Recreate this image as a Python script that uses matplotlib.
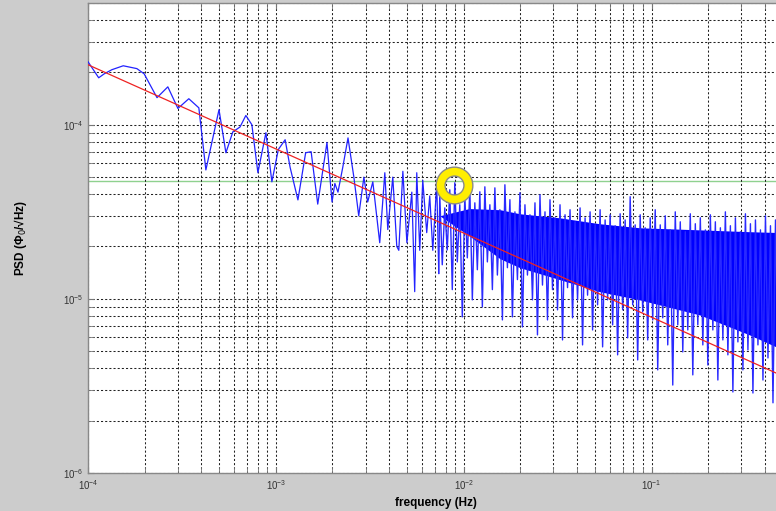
#!/usr/bin/env python

# Noise PSD with 1/f fit, MATLAB-style log-log figure

import numpy as np
import matplotlib

matplotlib.use("Agg")
import matplotlib.pyplot as plt

plt.rcParams["font.family"] = ["Liberation Sans", "DejaVu Sans"]

# Low frequency part of the spectrum (read point by point)
low_f = [
    1.00e-4, 1.14e-4, 1.22e-4, 1.34e-4, 1.54e-4, 1.82e-4, 1.99e-4, 2.33e-4,
    2.66e-4, 3.01e-4, 3.44e-4, 3.89e-4, 4.24e-4, 4.98e-4, 5.42e-4, 5.90e-4,
    6.44e-4, 6.92e-4, 7.45e-4, 8.02e-4, 8.85e-4, 9.52e-4, 1.03e-3, 1.12e-3,
    1.19e-3, 1.31e-3, 1.44e-3, 1.54e-3, 1.67e-3, 1.87e-3, 1.99e-3, 2.06e-3,
    2.14e-3, 2.27e-3, 2.42e-3, 2.60e-3, 2.76e-3, 2.94e-3, 3.08e-3, 3.28e-3,
    3.57e-3, 3.80e-3, 3.94e-3, 4.19e-3, 4.40e-3, 4.51e-3, 4.74e-3, 4.98e-3,
    5.29e-3, 5.48e-3, 5.62e-3, 5.83e-3, 6.05e-3, 6.35e-3, 6.59e-3, 6.84e-3,
    7.18e-3, 7.36e-3,
]
low_psd = [
    2.30e-4, 1.86e-4, 1.96e-4, 2.07e-4, 2.18e-4, 2.10e-4, 1.96e-4, 1.43e-4,
    1.65e-4, 1.24e-4, 1.41e-4, 1.25e-4, 5.5e-5, 1.22e-4, 6.9e-5, 9.1e-5,
    9.7e-5, 1.13e-4, 1.00e-4, 5.3e-5, 9.0e-5, 4.7e-5, 7.2e-5, 8.2e-5,
    5.7e-5, 3.7e-5, 6.9e-5, 7.0e-5, 3.5e-5, 7.9e-5, 3.6e-5, 4.6e-5,
    4.1e-5, 5.7e-5, 8.4e-5, 5.0e-5, 3.0e-5, 5.0e-5, 3.6e-5, 4.7e-5,
    2.1e-5, 5.3e-5, 2.5e-5, 5.0e-5, 2.0e-5, 1.9e-5, 5.4e-5, 2.1e-5,
    4.1e-5, 1.1e-5, 5.3e-5, 1.9e-5, 4.8e-5, 2.4e-5, 3.9e-5, 1.9e-5,
    4.6e-5, 1.4e-5,
]

# High frequency part: peak / trough pairs on an even log grid
dense_f_start = 7.45e-3
dense_f_stop = 0.5
dense_psd = [
    3.96e-5, 1.57e-5, 3.33e-5, 1.91e-5, 4.23e-5, 1.13e-5, 4.64e-5, 1.63e-5,
    3.47e-5, 7.88e-6, 3.91e-5, 1.72e-5, 4.34e-5, 9.87e-6, 3.56e-5, 1.47e-5,
    4.12e-5, 8.99e-6, 4.40e-5, 1.63e-5, 3.47e-5, 1.13e-5, 4.34e-5, 1.37e-5,
    3.25e-5, 7.57e-6, 4.52e-5, 1.51e-5, 3.71e-5, 7.88e-6, 3.16e-5, 1.29e-5,
    4.07e-5, 6.90e-6, 3.47e-5, 1.37e-5, 3.04e-5, 9.87e-6, 3.56e-5, 6.21e-6,
    3.96e-5, 1.20e-5, 3.16e-5, 7.57e-6, 3.71e-5, 1.13e-5, 2.92e-5, 8.65e-6,
    3.47e-5, 5.81e-6, 3.04e-5, 1.16e-5, 3.25e-5, 7.78e-6, 2.77e-5, 9.87e-6,
    3.33e-5, 5.44e-6, 2.92e-5, 1.05e-5, 3.16e-5, 6.63e-6, 2.66e-5, 9.24e-6,
    3.25e-5, 5.30e-6, 2.84e-5, 9.87e-6, 3.04e-5, 7.09e-6, 2.63e-5, 4.77e-6,
    3.08e-5, 8.65e-6, 2.84e-5, 5.97e-6, 3.86e-5, 9.24e-6, 2.66e-5, 4.46e-6,
    3.04e-5, 8.42e-6, 2.56e-5, 5.81e-6, 2.92e-5, 7.57e-6, 3.25e-5, 3.91e-6,
    2.66e-5, 7.78e-6, 3.00e-5, 5.44e-6, 2.49e-5, 3.20e-6, 3.16e-5, 7.09e-6,
    2.77e-5, 4.96e-6, 2.43e-5, 6.63e-6, 3.08e-5, 3.66e-6, 2.70e-5, 7.09e-6,
    2.92e-5, 5.44e-6, 2.49e-5, 4.17e-6, 3.04e-5, 6.63e-6, 2.77e-5, 3.42e-6,
    2.56e-5, 5.81e-6, 3.16e-5, 4.77e-6, 2.63e-5, 2.92e-6, 2.92e-5, 5.66e-6,
    2.43e-5, 3.91e-6, 3.08e-5, 5.09e-6, 2.70e-5, 2.88e-6, 2.84e-5, 5.44e-6,
    2.49e-5, 3.42e-6, 3.00e-5, 4.58e-6, 2.63e-5, 2.53e-6, 2.84e-5, 4.34e-6,
    2.56e-5, 2.70e-6,
]

# Solid core of the dense band
core_f = [7.45e-3, 1.07e-2, 1.56e-2, 1.99e-2, 3.24e-2, 5.29e-2, 8.63e-2,
          0.180, 0.332, 0.5]
core_hi = [3.0e-5, 3.3e-5, 3.25e-5, 3.08e-5, 2.92e-5, 2.70e-5, 2.56e-5,
           2.49e-5, 2.43e-5, 2.40e-5]
core_lo = [3.0e-5, 2.3e-5, 1.7e-5, 1.51e-5, 1.29e-5, 1.10e-5, 9.87e-6,
           8.09e-6, 6.21e-6, 5.09e-6]

# 1/f fit end points, threshold level and marked peak
fit_f = [1e-4, 0.5]
fit_psd = [2.21e-4, 3.6e-6]
level_psd = 4.76e-5
mark_f = 8.87e-3
mark_psd = 4.52e-5

dense_f = np.geomspace(dense_f_start, dense_f_stop, len(dense_psd))

fig = plt.figure(figsize=(7.76, 5.11), dpi=100)
fig.patch.set_facecolor("#cccccc")
ax = fig.add_axes([88 / 776, 38 / 511, 695 / 776, 470 / 511])
ax.set_facecolor("white")
ax.set_xscale("log")
ax.set_yscale("log")

ax.fill_between(core_f, core_lo, core_hi, color="#0000ff", lw=0, zorder=2)
ax.plot(low_f, low_psd, color="#2222ff", lw=0.9, zorder=3)
ax.plot(np.concatenate([low_f[-1:], dense_f]),
        np.concatenate([low_psd[-1:], dense_psd]),
        color="#2a2aff", lw=1.0, zorder=3)
ax.plot(fit_f, fit_psd, color="#ee2222", lw=0.9, zorder=4)
ax.axhline(level_psd, color="#8fd18f", lw=1.0, zorder=1)

# yellow ring around the peak
ax.plot(mark_f, mark_psd, "o", ms=20, mfc="none", mec="#8a8a8a", mew=7.4, zorder=5)
ax.plot(mark_f, mark_psd, "o", ms=20, mfc="none", mec="#ffee00", mew=5.4, zorder=6)

ax.set_xlim(1e-4, 0.5)
ax.set_ylim(1e-6, 5e-4)

ax.grid(True, which="both", color="#222222", linestyle=(0, (2, 2)), lw=0.75)
ax.tick_params(which="both", direction="in", top=True, right=True,
               length=4, color="#777777", labelsize=7, labelcolor="#333333")
for s in ax.spines.values():
    s.set_color("#888888")
    s.set_linewidth(1.0)

ax.set_xlabel("frequency (Hz)", fontsize=8.5, fontweight="bold", labelpad=4)
ax.set_ylabel("PSD (Φ$_0$/√Hz)", fontsize=8.5, fontweight="bold", labelpad=24)

fig.savefig("out.png", dpi=100, facecolor=fig.get_facecolor())
